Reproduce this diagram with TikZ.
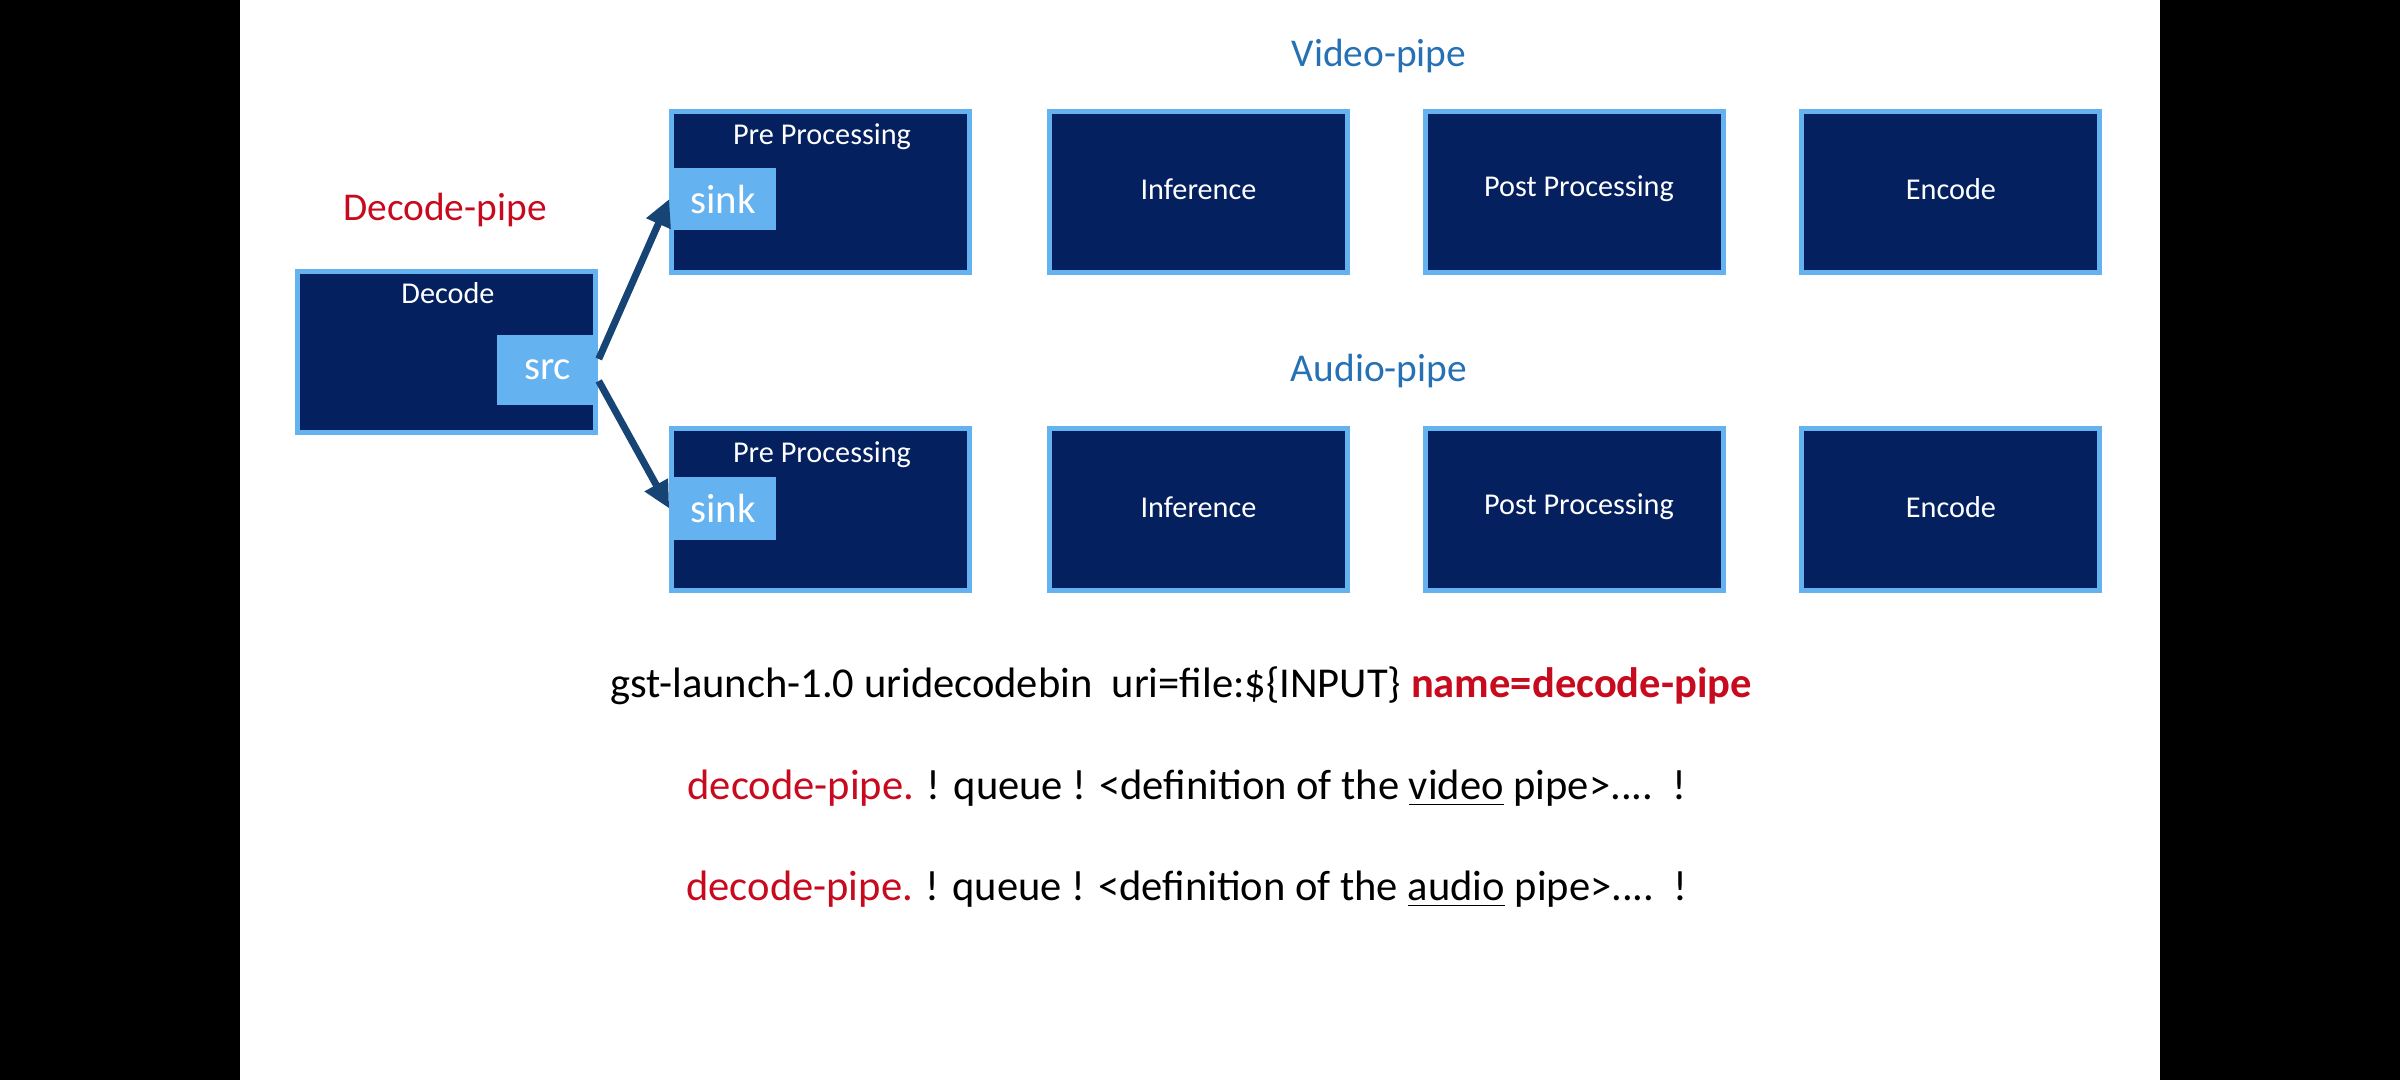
\documentclass[tikz,border=0pt]{standalone}
\usepackage{fontspec}
\setmainfont{Carlito}
\usetikzlibrary{arrows.meta}
\definecolor{navy}{RGB}{4,32,94}
\definecolor{lightb}{RGB}{100,178,240}
\definecolor{pipered}{RGB}{200,10,30}
\definecolor{pipeblue}{RGB}{38,112,180}
\definecolor{arrowb}{RGB}{22,68,116}
\newcommand{\ul}[1]{\underline{\smash{#1}}}
\tikzset{
  stage/.style={draw=lightb, fill=navy, line width=0.05cm, minimum width=2.98cm, minimum height=1.61cm, inner sep=0pt, text=white, font=\fontsize{8.6}{10}\selectfont},
  stagetext/.style={text=white, inner sep=0pt, font=\fontsize{8.6}{10}\selectfont},
  pad/.style={fill=lightb, inner sep=0pt, text=white, font=\fontsize{11.6}{13}\selectfont},
  boxlabel/.style={text=white, inner sep=0pt, font=\fontsize{8.6}{10}\selectfont},
  pipelabel/.style={inner sep=0pt, font=\fontsize{11.2}{13}\selectfont},
  cmdline/.style={inner sep=0pt, font=\fontsize{12.1}{14}\selectfont},
  flow/.style={draw=arrowb, line width=0.07cm, -{Triangle[length=0.27cm,width=0.25cm]}}
}
\begin{document}
\begin{tikzpicture}[x=0.01cm,y=-0.01cm]
\useasboundingbox (0,0) rectangle (2400,1080);
\fill[black] (0,0) rectangle (240,1080);
\fill[black] (2160,0) rectangle (2400,1080);
\fill[white] (240,0) rectangle (2160,1080);

% labels
\node[pipelabel, text=pipeblue] (vlabel) at (1379,56) {Video-pipe};
\node[pipelabel, text=pipeblue] (alabel) at (1379,371) {Audio-pipe};
\node[pipelabel, text=pipered] (dlabel) at (445,210) {Decode-pipe};

% decode box
\node[stage] (decode) at (446.5,352) {};
\node[boxlabel] (decodet) at (448,293) {Decode};
\node[pad, minimum width=1.01cm, minimum height=0.70cm] (src) at (547.5,370) {src};

% video row
\node[stage] (vpre) at (820.5,192) {};
\node[boxlabel] (vpret) at (822,137) {Pre Processing};
\node[pad, minimum width=1.06cm, minimum height=0.62cm] (vsink) at (723,199) {sink};
\node[stage] (vinf) at (1198.5,192) {};
\node[stagetext] (vinft) at (1198.5,189) {Inference};
\node[stage] (vpost) at (1574.5,192) {};
\node[stagetext] (vpostt) at (1579,189) {Post Processing};
\node[stage] (venc) at (1950.5,192) {};
\node[stagetext] (venct) at (1951,189) {Encode};

% audio row
\node[stage] (apre) at (820.5,509.5) {};
\node[boxlabel] (apret) at (822,455) {Pre Processing};
\node[pad, minimum width=1.06cm, minimum height=0.62cm] (asink) at (723,508.5) {sink};
\node[stage] (ainf) at (1198.5,509.5) {};
\node[stagetext] (ainft) at (1198.5,507) {Inference};
\node[stage] (apost) at (1574.5,509.5) {};
\node[stagetext] (apostt) at (1579,507) {Post Processing};
\node[stage] (aenc) at (1950.5,509.5) {};
\node[stagetext] (aenct) at (1951,507) {Encode};

% arrows
\draw[flow] ([yshift=0.11cm]src.east) -- (vsink.west);
\draw[flow] ([yshift=-0.11cm]src.east) -- (asink.west);

% command lines
\node[cmdline] (cmd1) at (1181,686) {gst-launch-1.0 uridecodebin\ \ uri=file:\$\{INPUT\} \textcolor{pipered}{\textbf{name=decode-pipe}}};
\node[cmdline] (cmd2) at (1187,788) {\textcolor{pipered}{decode-pipe.} ! queue ! <definition of the \underline{video} pipe>....\ \ !};
\node[cmdline] (cmd3) at (1187,889) {\textcolor{pipered}{decode-pipe.} ! queue ! <definition of the \underline{audio} pipe>....\ \ !};
\end{tikzpicture}
\end{document}
